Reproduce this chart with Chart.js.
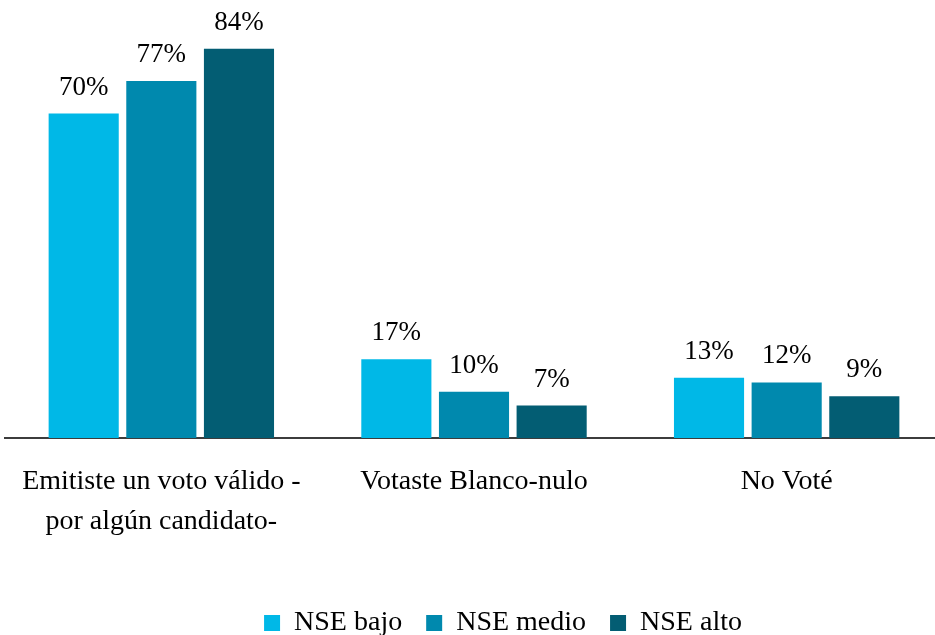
<!DOCTYPE html>
<html>
<head>
<meta charset="utf-8">
<script src="https://cdn.jsdelivr.net/npm/chart.js@4"></script>
<style>
html,body{margin:0;padding:0;background:#fff;overflow:hidden;}
#wrap{position:relative;width:943px;height:647px;}
</style>
</head>
<body>
<div id="wrap"><canvas id="c" width="943" height="647"></canvas></div>
<script>
const categories = [["Emitiste un voto válido -","por algún candidato-"],"Votaste Blanco-nulo","No Voté"];
const seriesNames = ["NSE bajo","NSE medio","NSE alto"];
const nseBajo = [70,17,13];
const nseMedio = [77,10,12];
const nseAlto = [84,7,9];
const colors = ["#00B8E7","#0089AE","#035D73"];

const FONT = "'Liberation Serif', 'Times New Roman', serif";

const valueLabels = {
  id: 'valueLabels',
  afterDatasetsDraw(chart) {
    const ctx = chart.ctx;
    ctx.save();
    ctx.font = "27px " + FONT;
    ctx.fillStyle = "#000";
    ctx.textAlign = "center";
    ctx.textBaseline = "alphabetic";
    chart.data.datasets.forEach((ds, i) => {
      const meta = chart.getDatasetMeta(i);
      meta.data.forEach((bar, j) => {
        ctx.fillText(ds.data[j] + "%", bar.x, bar.y - 19);
      });
    });
    ctx.restore();
  }
};

const shiftLegend = {
  id: 'shiftLegend',
  afterLayout(chart) {
    if (chart.legend) { chart.legend.left += 29; chart.legend.right += 29; }
  }
};

new Chart(document.getElementById('c'), {
  type: 'bar',
  data: {
    labels: categories,
    datasets: [
      {label: seriesNames[0], data: nseBajo, backgroundColor: colors[0]},
      {label: seriesNames[1], data: nseMedio, backgroundColor: colors[1]},
      {label: seriesNames[2], data: nseAlto, backgroundColor: colors[2]}
    ]
  },
  options: {
    responsive: false,
    animation: false,
    devicePixelRatio: 1,
    categoryPercentage: 0.745,
    barPercentage: 0.903,
    layout: {padding: {top: 0, left: 5, right: 0, bottom: 0}},
    plugins: {
      tooltip: {enabled: false},
      legend: {
        position: 'bottom',
        labels: {
          color: '#000',
          font: {family: FONT, size: 28},
          boxWidth: 16,
          boxHeight: 16,
          padding: 24
        }
      }
    },
    scales: {
      x: {
        grid: {display: false},
        border: {display: true, color: '#3c3c3c', width: 2},
        ticks: {
          color: '#000',
          font: {family: FONT, size: 28, lineHeight: 1.43},
          padding: 16,
          maxRotation: 0,
          autoSkip: false
        },
        afterFit(scale) { scale.height = 147; }
      },
      y: {
        display: false,
        min: 0,
        max: 94.5
      }
    }
  },
  plugins: [valueLabels, shiftLegend]
});
</script>
</body>
</html>
